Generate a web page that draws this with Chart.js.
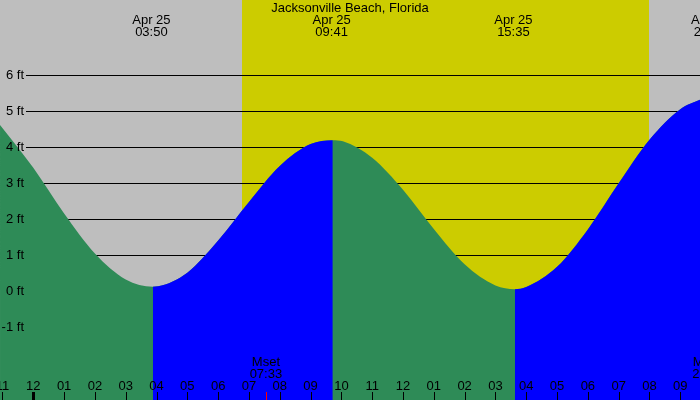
<!DOCTYPE html>
<html>
<head>
<meta charset="utf-8">
<script src="https://cdn.jsdelivr.net/npm/chart.js@4/dist/chart.umd.min.js"></script>
<style>
  html, body { margin: 0; padding: 0; background: #bebebe; }
  canvas { display: block; }
</style>
</head>
<body>
<canvas id="tideChart" width="700" height="400"></canvas>
<script>
// hours relative to midnight Apr 25, heights in feet
const tideHours = [-1.08, 0, 1, 2, 3, 3.88, 4.05, 5, 6, 7, 8, 9, 9.72,
  10.05, 11, 12, 13, 14, 15, 15.63, 16, 17, 18, 19, 20, 21, 21.64];
const tideFeet = [4.61, 3.42, 2.15, 1.04, 0.32, 0.12, 0.13, 0.51, 1.4, 2.47, 3.47, 4.08, 4.19,
  4.16, 3.7, 2.81, 1.72, 0.74, 0.15, 0.05, 0.11, 0.67, 1.71, 2.99, 4.2, 5.05, 5.31];

const eventDates = ["Apr 25", "Apr 25", "Apr 25", "Apr 25"];
const eventTimes = ["03:50", "09:41", "15:35", "21:58"];

const moonNames = ["Mset", "Mrise"];
const moonTimes = ["07:33", "21:55"];

const sunrise = "06:46";
const sunset = "19:59";

const hourTicks = [-1, 0, 1, 2, 3, 4, 5, 6, 7, 8, 9, 10, 11, 12, 13, 14, 15, 16, 17, 18, 19, 20, 21];
const hourLabels = ["11", "12", "01", "02", "03", "04", "05", "06", "07", "08", "09", "10",
  "11", "12", "01", "02", "03", "04", "05", "06", "07", "08", "09"];

const feetTicks = [-1, 0, 1, 2, 3, 4, 5, 6];
const feetLabels = ["-1 ft", "0 ft", "1 ft", "2 ft", "3 ft", "4 ft", "5 ft", "6 ft"];

const title = "Jacksonville Beach, Florida";

function toHours(t) {
  const [h, m] = t.split(":").map(Number);
  return h + m / 60;
}

const FONT = "13px 'Liberation Sans', Arial, sans-serif";
const NIGHT = "#bebebe";
const DAY = "#cccc00";
const RISING = "#0000ff";
const FALLING = "#2e8b57";

const backdrop = {
  id: "backdrop",
  beforeDatasetsDraw(chart) {
    const { ctx, chartArea: a, scales: { x, y } } = chart;
    ctx.save();
    ctx.fillStyle = NIGHT;
    ctx.fillRect(0, 0, chart.width, chart.height);
    const x0 = Math.round(x.getPixelForValue(toHours(sunrise)));
    const x1 = Math.round(x.getPixelForValue(toHours(sunset)));
    ctx.fillStyle = DAY;
    ctx.fillRect(x0, a.top, x1 - x0, a.bottom - a.top);
    ctx.strokeStyle = "#000";
    ctx.lineWidth = 1;
    feetTicks.forEach(v => {
      const py = Math.round(y.getPixelForValue(v)) + 0.5;
      ctx.beginPath();
      ctx.moveTo(26, py);
      ctx.lineTo(a.right, py);
      ctx.stroke();
    });
    ctx.restore();
  },
  afterDraw(chart) {
    const { ctx, scales: { x, y } } = chart;
    ctx.save();
    ctx.font = FONT;
    ctx.fillStyle = "#000";
    ctx.textBaseline = "middle";

    ctx.textAlign = "right";
    feetTicks.forEach((v, i) => {
      ctx.fillText(feetLabels[i], 24, y.getPixelForValue(v));
    });

    ctx.textAlign = "center";
    ctx.fillText(title, 350, 8);
    eventTimes.forEach((t, i) => {
      const px = x.getPixelForValue(toHours(t));
      ctx.fillText(eventDates[i], px, 20);
      ctx.fillText(t, px, 32);
    });

    moonTimes.forEach((t, i) => {
      const px = x.getPixelForValue(toHours(t));
      ctx.fillText(moonNames[i], px, 362);
      ctx.fillText(t, px, 374);
      ctx.fillStyle = "#ff0000";
      ctx.fillRect(Math.round(px), 392, 1, 8);
      ctx.fillStyle = "#000";
    });

    hourTicks.forEach((h, i) => {
      const px = x.getPixelForValue(h);
      ctx.fillText(hourLabels[i], px, 386);
      const w = h === 0 ? 3 : 1;
      ctx.fillRect(Math.round(px) - (w - 1) / 2, 392, w, 8);
    });
    ctx.restore();
  }
};

const points = tideHours.map((h, i) => ({ x: h, y: tideFeet[i] }));

new Chart(document.getElementById("tideChart"), {
  type: "line",
  data: {
    datasets: [{
      // rising water, drawn on top
      data: points,
      fill: "start",
      borderWidth: 0,
      borderColor: "rgba(0,0,0,0)",
      backgroundColor: "rgba(0,0,0,0)",
      pointRadius: 0,
      cubicInterpolationMode: "monotone",
      segment: {
        backgroundColor: c => c.p1.parsed.y > c.p0.parsed.y ? RISING : "rgba(0,0,0,0)"
      }
    }, {
      // falling water under everything
      data: points,
      fill: "start",
      borderWidth: 0,
      borderColor: "rgba(0,0,0,0)",
      backgroundColor: FALLING,
      pointRadius: 0,
      cubicInterpolationMode: "monotone"
    }]
  },
  options: {
    responsive: false,
    animation: false,
    layout: { padding: 0 },
    plugins: { legend: { display: false }, tooltip: { enabled: false }, title: { display: false } },
    scales: {
      x: { type: "linear", display: false, min: -1.081, max: 21.64 },
      y: { type: "linear", display: false, min: -3.028, max: 8.083 }
    }
  },
  plugins: [backdrop]
});
</script>
</body>
</html>
